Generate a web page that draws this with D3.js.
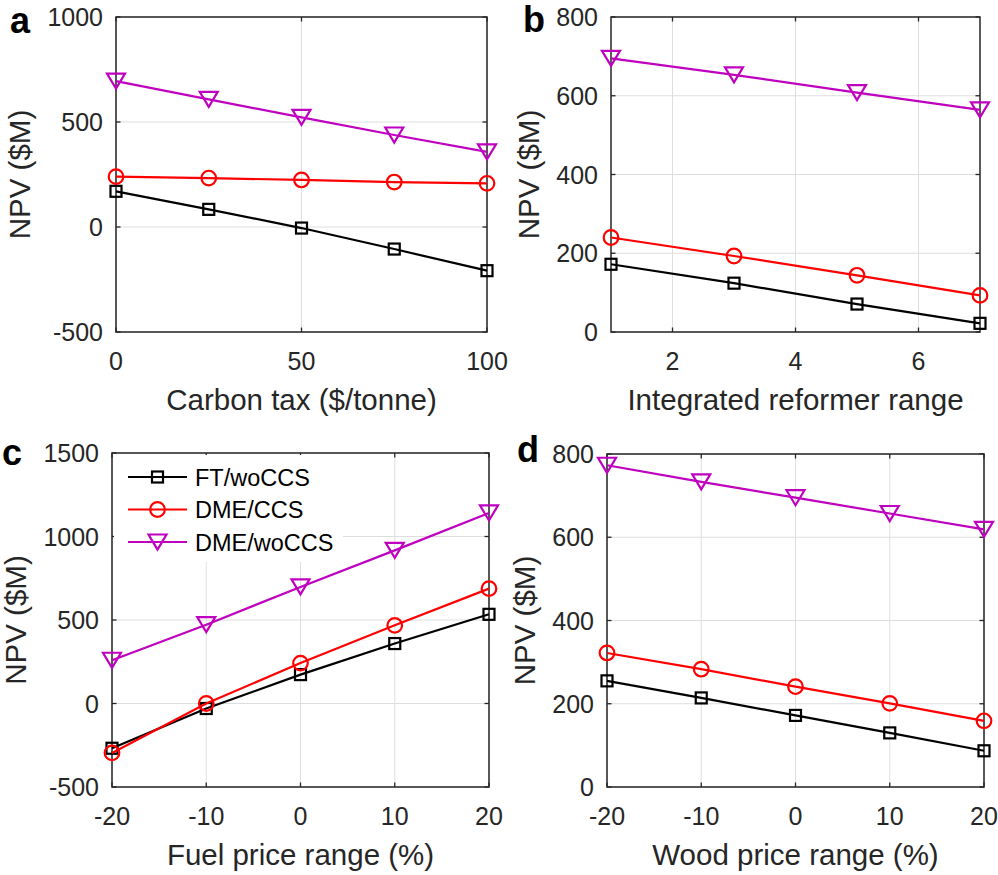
<!DOCTYPE html>
<html><head><meta charset="utf-8">
<script src="https://cdn.jsdelivr.net/npm/d3@7"></script>
<style>body{margin:0;background:#fff}svg{display:block}</style>
</head><body>
<svg id="c" width="998" height="875"></svg>
<script>
const seriesNames = ["FT/woCCS", "DME/CCS", "DME/woCCS"];
const seriesColors = ["#000000", "#ff0000", "#bf00bf"];
const seriesMarkers = ["square", "circle", "triangle"];

// Panel a: carbon tax
const carbonTax = [0, 25, 50, 75, 100];
const aFT = [170, 84, -5, -105, -208];
const aDMECCS = [240, 233, 224, 214, 208];
const aDMEwo = [695, 608, 522, 438, 358];
const aXTicks = [0, 50, 100];
const aYTicks = [-500, 0, 500, 1000];

// Panel b: integrated reformer range
const reformerRange = [1, 3, 5, 7];
const bFT = [172, 124, 71, 22];
const bDMECCS = [240, 193, 144, 93];
const bDMEwo = [695, 653, 608, 564];
const bXTicks = [2, 4, 6];
const bYTicks = [0, 200, 400, 600, 800];

// Panel c: fuel price range
const fuelPrice = [-20, -10, 0, 10, 20];
const cFT = [-268, -30, 173, 359, 534];
const cDMECCS = [-296, 0, 242, 468, 688];
const cDMEwo = [259, 472, 698, 917, 1141];
const cXTicks = [-20, -10, 0, 10, 20];
const cYTicks = [-500, 0, 500, 1000, 1500];

// Panel d: wood price range
const woodPrice = [-20, -10, 0, 10, 20];
const dFT = [255, 214, 172, 130, 87];
const dDMECCS = [322, 283, 241, 201, 159];
const dDMEwo = [773, 733, 695, 657, 619];
const dXTicks = [-20, -10, 0, 10, 20];
const dYTicks = [0, 200, 400, 600, 800];

const svg = d3.select("#c");
const FONT = "'Liberation Sans', Arial, Helvetica, sans-serif";
const AX = "#262626";

function marker(g, type, x, y, color) {
  if (type === "square") {
    g.append("rect").attr("x", x - 5.5).attr("y", y - 5.5).attr("width", 11).attr("height", 11)
      .attr("fill", "none").attr("stroke", color).attr("stroke-width", 2.2);
  } else if (type === "circle") {
    g.append("circle").attr("cx", x).attr("cy", y).attr("r", 7.3)
      .attr("fill", "none").attr("stroke", color).attr("stroke-width", 2.2);
  } else {
    const w = 9, h = 7.5;
    g.append("path").attr("d", `M${x - w},${y - h}L${x + w},${y - h}L${x},${y + h}Z`)
      .attr("fill", "none").attr("stroke", color).attr("stroke-width", 2.2).attr("stroke-linejoin", "miter");
  }
}

function panel(p) {
  const g = svg.append("g");
  const x = d3.scaleLinear().domain(p.xDomain).range([p.left, p.right]);
  const y = d3.scaleLinear().domain(p.yDomain).range([p.bottom, p.top]);
  // grid
  g.selectAll(null).data(p.xTicks).join("line")
    .attr("x1", d => x(d)).attr("x2", d => x(d)).attr("y1", p.top).attr("y2", p.bottom)
    .attr("stroke", "#dedede").attr("stroke-width", 1);
  g.selectAll(null).data(p.yTicks).join("line")
    .attr("y1", d => y(d)).attr("y2", d => y(d)).attr("x1", p.left).attr("x2", p.right)
    .attr("stroke", "#dedede").attr("stroke-width", 1);
  // ticks inward, both sides
  const tl = 4.5;
  p.xTicks.forEach(d => {
    g.append("line").attr("x1", x(d)).attr("x2", x(d)).attr("y1", p.bottom).attr("y2", p.bottom - tl).attr("stroke", AX).attr("stroke-width", 1.3);
    g.append("line").attr("x1", x(d)).attr("x2", x(d)).attr("y1", p.top).attr("y2", p.top + tl).attr("stroke", AX).attr("stroke-width", 1.3);
  });
  p.yTicks.forEach(d => {
    g.append("line").attr("y1", y(d)).attr("y2", y(d)).attr("x1", p.left).attr("x2", p.left + tl).attr("stroke", AX).attr("stroke-width", 1.3);
    g.append("line").attr("y1", y(d)).attr("y2", y(d)).attr("x1", p.right).attr("x2", p.right - tl).attr("stroke", AX).attr("stroke-width", 1.3);
  });
  // tick labels
  g.selectAll(null).data(p.xTicks).join("text")
    .attr("x", d => x(d)).attr("y", p.bottom + 38).attr("text-anchor", "middle")
    .attr("font-family", FONT).attr("font-size", 25).attr("fill", AX).text(d => d);
  const yl = g.selectAll(null).data(p.yTicks).join("text")
    .attr("x", p.left - 13).attr("y", d => y(d) + 9).attr("text-anchor", "end")
    .attr("font-family", FONT).attr("font-size", 25).attr("fill", AX).text(d => d);
  let maxW = 0;
  yl.each(function () { maxW = Math.max(maxW, this.getComputedTextLength()); });
  // axis labels
  g.append("text").attr("x", (p.left + p.right) / 2).attr("y", p.bottom + 78)
    .attr("text-anchor", "middle").attr("font-family", FONT).attr("font-size", 29.5).attr("fill", AX).text(p.xLabel);
  const lx = p.left - 13 - maxW - 17, ly = (p.top + p.bottom) / 2;
  g.append("text").attr("transform", `translate(${lx},${ly}) rotate(-90)`)
    .attr("text-anchor", "middle").attr("font-family", FONT).attr("font-size", 29.5).attr("fill", AX).text("NPV ($M)");
  // panel letter
  g.append("text").attr("x", p.letterX).attr("y", p.letterY).attr("font-family", FONT)
    .attr("font-weight", "bold").attr("font-size", 36).attr("fill", "#000").text(p.letter);
  // legend background (under data)
  if (p.legend) {
    g.append("rect").attr("x", p.left + 2).attr("y", p.top + 2).attr("width", 229).attr("height", 107).attr("fill", "#fff");
  }
  // box
  g.append("rect").attr("x", p.left).attr("y", p.top).attr("width", p.right - p.left).attr("height", p.bottom - p.top)
    .attr("fill", "none").attr("stroke", AX).attr("stroke-width", 1.5);
  // series
  const line = d3.line().x(d => x(d[0])).y(d => y(d[1]));
  p.series.forEach((vals, i) => {
    const pts = p.xVals.map((xv, j) => [xv, vals[j]]);
    g.append("path").attr("d", line(pts)).attr("fill", "none").attr("stroke", seriesColors[i]).attr("stroke-width", 2.2);
    pts.forEach(pt => marker(g, seriesMarkers[i], x(pt[0]), y(pt[1]), seriesColors[i]));
  });
  // legend
  if (p.legend) {
    seriesNames.forEach((name, i) => {
      const ry = p.top + 24 + i * 32.5;
      g.append("line").attr("x1", p.left + 16).attr("x2", p.left + 75).attr("y1", ry).attr("y2", ry)
        .attr("stroke", seriesColors[i]).attr("stroke-width", 2.2);
      marker(g, seriesMarkers[i], p.left + 45.5, ry, seriesColors[i]);
      g.append("text").attr("x", p.left + 83).attr("y", ry + 8.5).attr("font-family", FONT)
        .attr("font-size", 23.5).attr("fill", "#000").text(name);
    });
  }
}

panel({ left: 116, right: 487, top: 17, bottom: 332, xDomain: [0, 100], yDomain: [-500, 1000],
  xTicks: aXTicks, yTicks: aYTicks, xVals: carbonTax, series: [aFT, aDMECCS, aDMEwo],
  xLabel: "Carbon tax ($/tonne)", letter: "a", letterX: 10, letterY: 33 });
panel({ left: 611, right: 980, top: 17, bottom: 332, xDomain: [1, 7], yDomain: [0, 800],
  xTicks: bXTicks, yTicks: bYTicks, xVals: reformerRange, series: [bFT, bDMECCS, bDMEwo],
  xLabel: "Integrated reformer range", letter: "b", letterX: 523, letterY: 32 });
panel({ left: 112, right: 489, top: 453, bottom: 787, xDomain: [-20, 20], yDomain: [-500, 1500],
  xTicks: cXTicks, yTicks: cYTicks, xVals: fuelPrice, series: [cFT, cDMECCS, cDMEwo],
  xLabel: "Fuel price range (%)", letter: "c", letterX: 2, letterY: 465, legend: true });
panel({ left: 607, right: 984, top: 454, bottom: 787, xDomain: [-20, 20], yDomain: [0, 800],
  xTicks: dXTicks, yTicks: dYTicks, xVals: woodPrice, series: [dFT, dDMECCS, dDMEwo],
  xLabel: "Wood price range (%)", letter: "d", letterX: 517, letterY: 462 });
</script>
</body></html>
